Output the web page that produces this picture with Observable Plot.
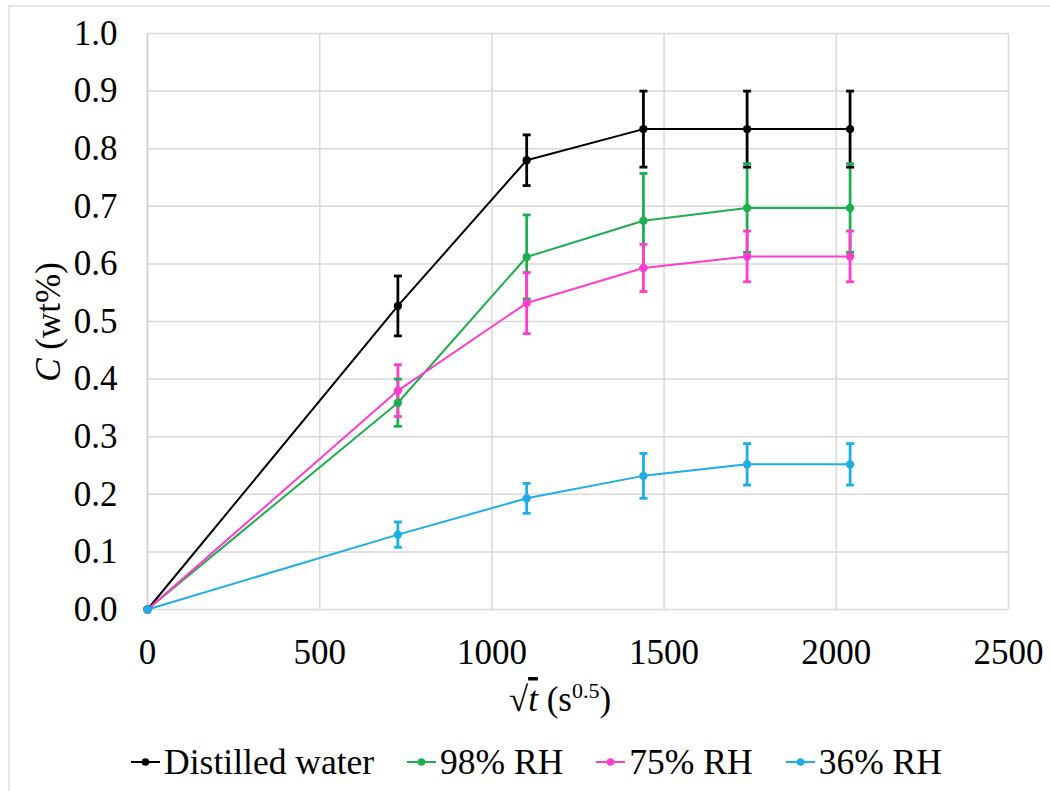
<!DOCTYPE html>
<html>
<head>
<meta charset="utf-8">
<script src="https://cdn.jsdelivr.net/npm/d3@7"></script>
<script src="https://cdn.jsdelivr.net/npm/@observablehq/plot@0.6"></script>
<style>
  html, body { margin: 0; padding: 0; background: #fff; }
  #wrap { position: relative; width: 1050px; height: 791px; overflow: hidden; font-family: 'Liberation Serif'; }
  #frame { position: absolute; left: 8px; top: 5px; width: 1060px; height: 800px; border: 2px solid #e6e6e6; box-sizing: border-box; pointer-events: none; }
  #chart { position: absolute; left: 0; top: 0; }
  #legend { position: absolute; left: 11px; top: 740px; width: 1050px; height: 44px; display: flex; justify-content: center; align-items: center; gap: 32px; color: #000; }
  .item { display: flex; align-items: center; font-family: 'Liberation Serif'; font-size: 35.5px; line-height: 44px; }
  .item svg { margin-right: 3px; }
</style>
</head>
<body>
<div id="wrap">
  <div id="chart"></div>
  <div id="frame"></div>
  <div id="legend"></div>
</div>
<script>
// sqrt(t) positions (s^0.5)
const xs = [0, 727, 1101, 1440, 1741, 2040];
const seriesNames = ["Distilled water", "98% RH", "75% RH", "36% RH"];
const seriesColors = ["#000000", "#1fae4f", "#ff3ccf", "#1eaee6"];
const distilled = [0, 0.527, 0.780, 0.834, 0.834, 0.834];
const distilledErr = [0, 0.052, 0.044, 0.066, 0.066, 0.066];
const rh98 = [0, 0.359, 0.612, 0.675, 0.697, 0.697];
const rh98Err = [0, 0.041, 0.073, 0.082, 0.077, 0.077];
const rh75 = [0, 0.380, 0.532, 0.593, 0.613, 0.613];
const rh75Err = [0, 0.045, 0.053, 0.041, 0.044, 0.044];
const rh36 = [0, 0.130, 0.193, 0.232, 0.252, 0.252];
const rh36Err = [0, 0.022, 0.026, 0.039, 0.036, 0.036];
const xTicks = [0, 500, 1000, 1500, 2000, 2500];
const yTicks = [0, 0.1, 0.2, 0.3, 0.4, 0.5, 0.6, 0.7, 0.8, 0.9, 1.0];

const values = [distilled, rh98, rh75, rh36];
const errs = [distilledErr, rh98Err, rh75Err, rh36Err];
const rows = [];
seriesNames.forEach((s, i) => {
  xs.forEach((x, j) => {
    rows.push({series: s, x, y: values[i][j], lo: values[i][j] - errs[i][j], hi: values[i][j] + errs[i][j], err: errs[i][j]});
  });
});
const errRows = rows.filter(d => d.err > 0);

// horizontal cap symbol for error bars
const capSymbol = {
  draw(context, size) {
    const w = Math.sqrt(size) / 2;
    context.moveTo(-w, 0);
    context.lineTo(w, 0);
  }
};

const color = {domain: seriesNames, range: seriesColors};

const plot = Plot.plot({
  width: 1050,
  height: 740,
  marginLeft: 147,
  marginRight: 42,
  marginTop: 33,
  marginBottom: 131,
  style: {fontFamily: "'Liberation Serif'", fontSize: "35px", color: "#000", background: "transparent"},
  x: {domain: [0, 2500], ticks: xTicks, tickFormat: d => String(d), label: null, tickSize: 0, tickPadding: 30},
  y: {domain: [0, 1.0], ticks: yTicks, tickFormat: d => d.toFixed(1), label: null, tickSize: 0, tickPadding: 30},
  color,
  marks: [
    Plot.gridX(xTicks, {stroke: "#d9d9d9", strokeOpacity: 1, strokeWidth: 1.5}),
    Plot.gridY(yTicks, {stroke: "#d9d9d9", strokeOpacity: 1, strokeWidth: 1.5}),
    Plot.ruleX([0], {stroke: "#d0d0d0", strokeWidth: 1.5}),
    Plot.ruleX(errRows, {x: "x", y1: "lo", y2: "hi", stroke: "series", strokeWidth: 2.8}),
    Plot.dot(errRows, {x: "x", y: "lo", symbol: capSymbol, r: 4.5, stroke: "series", strokeWidth: 2.8, fill: "none"}),
    Plot.dot(errRows, {x: "x", y: "hi", symbol: capSymbol, r: 4.5, stroke: "series", strokeWidth: 2.8, fill: "none"}),
    Plot.line(rows, {x: "x", y: "y", z: "series", stroke: "series", strokeWidth: 2}),
    Plot.dot(rows, {x: "x", y: "y", fill: "series", r: 4.2})
  ]
});
document.getElementById("chart").appendChild(plot);

// axis titles
const svg = d3.select(plot);
const yt = svg.append("text")
  .attr("transform", "translate(60,322) rotate(-90)")
  .attr("text-anchor", "middle")
  .attr("font-family", "Liberation Serif")
  .attr("font-size", 35)
  .attr("fill", "#000");
yt.append("tspan").attr("font-style", "italic").text("C");
yt.append("tspan").text(" (wt%)");

const xt = svg.append("text")
  .attr("x", 560).attr("y", 711)
  .attr("text-anchor", "middle")
  .attr("font-family", "Liberation Serif")
  .attr("font-size", 35)
  .attr("fill", "#000");
xt.append("tspan").text("√");
xt.append("tspan").attr("font-style", "italic").attr("text-decoration", "overline").text("t");
xt.append("tspan").text(" (s");
xt.append("tspan").attr("dy", -13).attr("font-size", 22).text("0.5");
xt.append("tspan").attr("dy", 13).text(")");

// legend
const legend = d3.select("#legend");
seriesNames.forEach((s, i) => {
  const item = legend.append("div").attr("class", "item");
  const sw = item.append("svg").attr("width", 31).attr("height", 20);
  sw.append("line").attr("x1", 1).attr("x2", 30).attr("y1", 10).attr("y2", 10).attr("stroke", seriesColors[i]).attr("stroke-width", 2);
  sw.append("circle").attr("cx", 15.5).attr("cy", 10).attr("r", 3.8).attr("fill", seriesColors[i]);
  item.append("span").style("font-family", "'Liberation Serif'").text(s);
});
</script>
</body>
</html>
